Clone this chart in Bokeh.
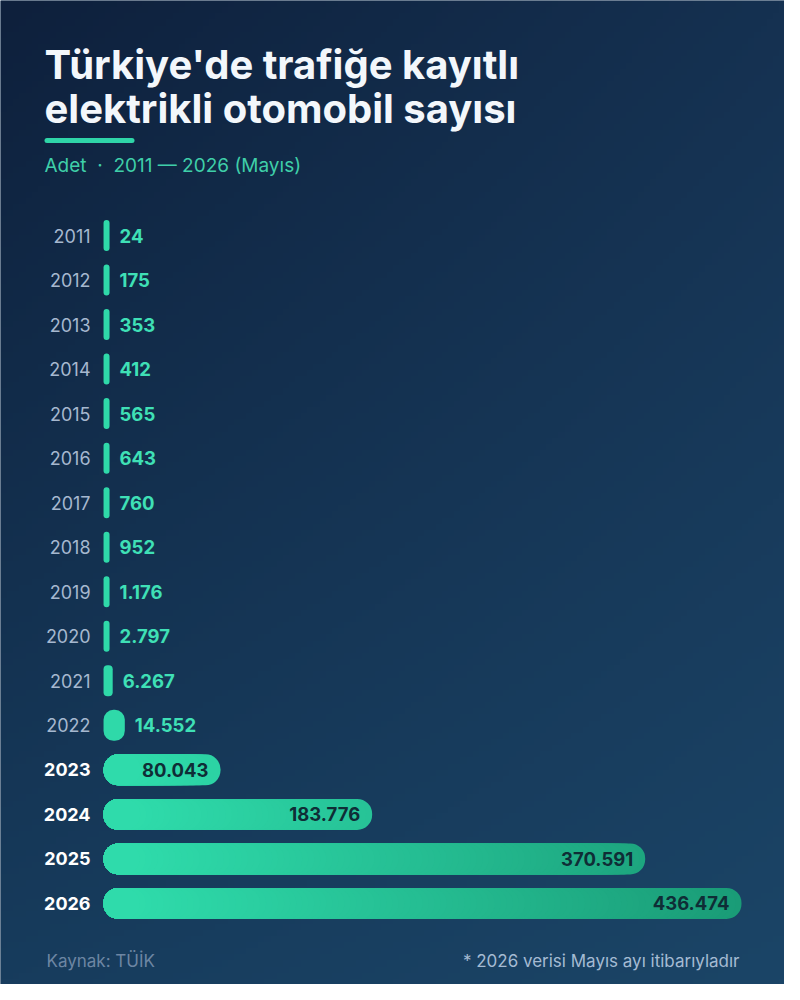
import numpy as np
from bokeh.plotting import figure
from bokeh.models import Range1d, Label, ColumnDataSource
from bokeh.embed import file_html
from bokeh.resources import INLINE
from bokeh.core.properties import value

# ---------------- data ----------------
years = ["2011", "2012", "2013", "2014", "2015", "2016", "2017", "2018",
         "2019", "2020", "2021", "2022", "2023", "2024", "2025", "2026"]
counts = [24, 175, 353, 412, 565, 643, 760, 952,
          1176, 2797, 6267, 14552, 80043, 183776, 370591, 436474]

title_lines = ["Türkiye'de trafiğe kayıtlı", "elektrikli otomobil sayısı"]
subtitle = "Adet\u00a0\u00a0·\u00a0\u00a02011 — 2026 (Mayıs)"
source_text = "Kaynak: TÜİK"
note_text = "* 2026 verisi Mayıs ayı itibarıyladır"

# ---------------- layout ----------------
W, H = 784, 984
XMIN, XMAX = -70500, 465900
S = W / (XMAX - XMIN)            # px per unit
ROW0, ROW = 235.0, 44.53         # first row centre (px from top), row pitch
Y_TOP = -ROW0 / ROW
Y_BOT = (H - ROW0) / ROW
BAR_PX = 31.0
BAR_H = BAR_PX / ROW
MIN_W = 6.0 / S

FONT = "Inter"

p = figure(width=W, height=H, x_range=Range1d(XMIN, XMAX),
           y_range=Range1d(Y_BOT, Y_TOP), output_backend="svg",
           toolbar_location=None, x_axis_location=None, y_axis_location=None,
           min_border=0)
p.outline_line_color = None
p.xgrid.visible = False
p.ygrid.visible = False
p.background_fill_color = "#153457"
p.border_fill_color = "#153457"


def hex2rgb(h):
    h = h.lstrip("#")
    return np.array([int(h[i:i + 2], 16) for i in (0, 2, 4)], dtype=float)


# background gradient (bilinear between four corner colours)
gh, gw = 160, 128
TL, TR, BL, BR = (hex2rgb(c) for c in ("#0e203c", "#153151", "#173c5d", "#1b4567"))
ty = np.linspace(0, 1, gh)[:, None, None]
tx = np.linspace(0, 1, gw)[None, :, None]
col = (TL * (1 - tx) * (1 - ty) + TR * tx * (1 - ty) + BL * (1 - tx) * ty + BR * tx * ty)
img = np.empty((gh, gw), dtype=np.uint32)
view = img.view(dtype=np.uint8).reshape((gh, gw, 4))
view[:, :, :3] = col.astype(np.uint8)
view[:, :, 3] = 255
p.image_rgba(image=[img], x=XMIN, y=Y_TOP, dw=XMAX - XMIN, dh=Y_BOT - Y_TOP)

# ---------------- bars ----------------
BRIGHT = hex2rgb("#30dfae")
DARK = hex2rgb("#1a9c77")


def grad(px):
    t = min(max(px / 640.0, 0.0), 1.0)
    c = BRIGHT * (1 - t) + DARK * t
    return "#%02x%02x%02x" % tuple(int(round(v)) for v in c)


disp = [max(v, MIN_W) for v in counts]
ny, nl, nr, nc = [], [], [], []
for i, v in enumerate(disp):
    wpx = v * S
    if wpx < BAR_PX:
        p.hbar(y=[i], left=[0], right=[v], height=BAR_H, fill_color="#2fd9a9",
               line_color=None, border_radius=int(wpx // 2))
    else:
        n = max(1, int(wpx / 6))
        for k in range(n):
            rpx = wpx * (1 - k / n)
            if rpx < BAR_PX:
                break
            ny.append(i)
            nl.append(0)
            nr.append(rpx / S)
            nc.append(grad(rpx))
p.hbar(y=ny, left=nl, right=nr, height=BAR_H, fill_color=nc, line_color=None,
       border_radius=15)

# ---------------- labels ----------------
inside = [d * S >= 100 for d in disp]
lab = ColumnDataSource(dict(
    x=disp, y=list(range(len(years))),
    text=[f"{v:,}".replace(",", ".") for v in counts],
    color=["#0f2d36" if f else "#3fe0b6" for f in inside],
    align=["right" if f else "left" for f in inside],
    off=[-12 if f else 10 for f in inside],
))
p.text(x="x", y="y", text="text", source=lab, text_color="color", text_align="align",
       x_offset="off", text_baseline="middle", text_font=value(FONT),
       text_font_size="18.5px", text_font_style="bold")

ylab = ColumnDataSource(dict(
    x=[0] * len(years), y=list(range(len(years))), text=years,
    color=["#ffffff" if f else "#a6b8cf" for f in inside],
    style=["bold" if f else "normal" for f in inside],
))
p.text(x="x", y="y", text="text", source=ylab, text_color="color",
       text_font_style="style", text_align="right", x_offset=-13,
       text_baseline="middle", text_font=value(FONT), text_font_size="18px")

# ---------------- title block ----------------
def sy(ref_y):
    return 992 - ref_y


p.add_layout(Label(x=44, y=sy(72), x_units="screen", y_units="screen",
                   text=title_lines[0], text_font=FONT, text_font_size="40px",
                   text_font_style="bold", text_color="#f3f7fb",
                   text_baseline="middle"))
p.add_layout(Label(x=44, y=sy(116), x_units="screen", y_units="screen",
                   text=title_lines[1], text_font=FONT, text_font_size="40px",
                   text_font_style="bold", text_color="#f3f7fb",
                   text_baseline="middle"))

ax0 = XMIN + 46.5 / S
ax1 = XMIN + 131.5 / S
ay = Y_TOP + 140 / ROW
p.segment(x0=[ax0], y0=[ay], x1=[ax1], y1=[ay], line_color="#2fd5a8",
          line_width=5, line_cap="round")

p.add_layout(Label(x=44, y=sy(173), x_units="screen", y_units="screen",
                   text=subtitle, text_font=FONT, text_font_size="19px",
                   text_color="#3fcfa9", text_baseline="middle"))

# ---------------- footer ----------------
p.add_layout(Label(x=46, y=sy(968), x_units="screen", y_units="screen",
                   text=source_text, text_font=FONT, text_font_size="17px",
                   text_color="#6d86a3", text_baseline="middle"))
p.add_layout(Label(x=739, y=sy(968), x_units="screen", y_units="screen",
                   text=note_text, text_font=FONT, text_font_size="17px",
                   text_color="#a5bbd3", text_baseline="middle", text_align="right"))

open("out.html", "w").write(file_html(p, INLINE))
